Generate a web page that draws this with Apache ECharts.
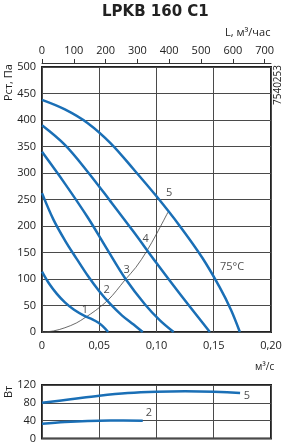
<!DOCTYPE html>
<html>
<head>
<meta charset="utf-8">
<script src="https://cdn.jsdelivr.net/npm/echarts@6/dist/echarts.min.js"></script>
<style>
html,body{margin:0;padding:0;background:#fff}
#c{width:286px;height:444px}
</style>
</head>
<body>
<div id="c"></div>
<script>
// напорные кривые: [Q, м3/с ; Pст, Па]
const curve1 = [[0,114],[0.006,92],[0.013,72],[0.02,56],[0.028,42],[0.0375,30],[0.044,24],[0.049,18],[0.053,11],[0.0578,0]];
const curve2 = [[0,262],[0.01,212],[0.02,173],[0.03,139],[0.04,106],[0.05,77],[0.06,52],[0.07,31],[0.08,14],[0.088,0]];
const curve3 = [[0,340],[0.02,280],[0.04,216],[0.058,152],[0.073,100],[0.09,52],[0.103,22],[0.115,0]];
const curve4 = [[0,390],[0.02,353],[0.04,302],[0.06,246],[0.08,189],[0.1,130],[0.12,73],[0.1466,0]];
const curve5 = [[0,438],[0.02,420],[0.04,394],[0.06,356],[0.08,307],[0.1,256],[0.12,201],[0.14,140],[0.155,85],[0.165,42],[0.1728,0]];
// характеристика сети
const network = [[0,0],[0.01,2],[0.02,8],[0.03,17],[0.0375,27],[0.047,41],[0.0576,60],[0.065,78],[0.0724,98],[0.082,122],[0.0913,152],[0.1,185],[0.11,226]];
// мощность, Вт
const power5 = [[0,80],[0.025,88],[0.05,96],[0.075,102],[0.1,105],[0.125,106],[0.15,105],[0.173,102]];
const power2 = [[0,33],[0.02,37],[0.04,39.5],[0.06,40.5],[0.088,40]];
// подписи осей
const flowTicks = [0,100,200,300,400,500,600,700];
const qTicks = ['0','0,05','0,10','0,15','0,20'];

const FONT = 'Open Sans';
const TXT = '#222';
const BLUE = '#1a6fb6';
const GRID = '#4a4a4a';

const chart = echarts.init(document.getElementById('c'), null, {renderer:'canvas'});

function blue(data, xi, yi){
  return {type:'line', data:data, xAxisIndex:xi, yAxisIndex:yi, smooth:0.35,
    showSymbol:false, silent:true, lineStyle:{color:BLUE, width:2.5}};
}
function tag(points, xi, yi){
  return {type:'scatter', xAxisIndex:xi, yAxisIndex:yi, symbolSize:0, silent:true, data:points,
    label:{show:true, position:'inside', formatter:p=>p.data[2], color:TXT, fontFamily:FONT, fontSize:11}};
}

chart.setOption({
  animation:false,
  textStyle:{fontFamily:FONT},
  title:{text:'LPKB 160 C1', left:97, top:0,
    textStyle:{fontFamily:'DejaVu Sans', fontSize:15, fontWeight:'bold', color:TXT}},
  grid:[
    {left:42, top:67, width:229, height:265, show:true, borderColor:'#222', borderWidth:2},
    {left:42, top:385, width:229, height:54, show:true, borderColor:'#222', borderWidth:2}
  ],
  xAxis:[
    {type:'value', gridIndex:0, min:0, max:0.2, interval:0.05,
      axisLine:{show:false}, axisTick:{show:false},
      axisLabel:{margin:8, color:TXT, fontSize:11, fontFamily:FONT, formatter:(v,i)=>qTicks[i]},
      splitLine:{show:true, lineStyle:{color:GRID, width:1}}},
    {type:'value', gridIndex:0, position:'top', offset:4, min:0, max:720,
      axisLine:{show:true, lineStyle:{color:'#333', width:1}},
      axisTick:{show:true, length:4, lineStyle:{color:'#333'}, customValues:flowTicks},
      axisLabel:{margin:7, color:TXT, fontSize:11, fontFamily:FONT, customValues:flowTicks},
      splitLine:{show:false}},
    {type:'value', gridIndex:1, min:0, max:0.2, interval:0.05,
      axisLine:{show:false}, axisTick:{show:false}, axisLabel:{show:false},
      splitLine:{show:true, lineStyle:{color:GRID, width:1}}}
  ],
  yAxis:[
    {type:'value', gridIndex:0, min:0, max:500, interval:50,
      axisLine:{show:false}, axisTick:{show:false},
      axisLabel:{margin:6, color:TXT, fontSize:11, fontFamily:FONT},
      splitLine:{show:true, lineStyle:{color:GRID, width:1}}},
    {type:'value', gridIndex:1, min:0, max:120, interval:40,
      axisLine:{show:false}, axisTick:{show:false},
      axisLabel:{margin:6, color:TXT, fontSize:11, fontFamily:FONT},
      splitLine:{show:true, lineStyle:{color:GRID, width:1}}}
  ],
  graphic:[
    {type:'text', left:225, top:27, style:{text:'L, м³/час', fill:TXT, font:'11px "Open Sans"'}},
    {type:'text', x:3, y:101, rotation:Math.PI/2, style:{text:'Рст, Па', fill:TXT, font:'11px "Open Sans"'}},
    {type:'text', x:273, y:105, rotation:Math.PI/2, style:{text:'7540253', fill:TXT, font:'10px "Open Sans"'}},
    {type:'text', left:255, top:362, style:{text:'м³/с', fill:TXT, font:'10px "Open Sans"'}},
    {type:'text', x:3, y:398, rotation:Math.PI/2, style:{text:'Вт', fill:TXT, font:'11px "Open Sans"'}}
  ],
  series:[
    {type:'line', data:network, xAxisIndex:0, yAxisIndex:0, smooth:0.35, showSymbol:false, silent:true,
      lineStyle:{color:'#444', width:0.8}},
    blue(curve1,0,0), blue(curve2,0,0), blue(curve3,0,0), blue(curve4,0,0), blue(curve5,0,0),
    blue(power5,2,1), blue(power2,2,1),
    tag([[0.0375,42,'1'],[0.0565,80,'2'],[0.074,118,'3'],[0.0906,175,'4'],[0.111,262,'5'],[0.166,122,'75°C']],0,0),
    tag([[0.179,96,'5'],[0.0934,57,'2']],2,1)
  ]
});
</script>
</body>
</html>
